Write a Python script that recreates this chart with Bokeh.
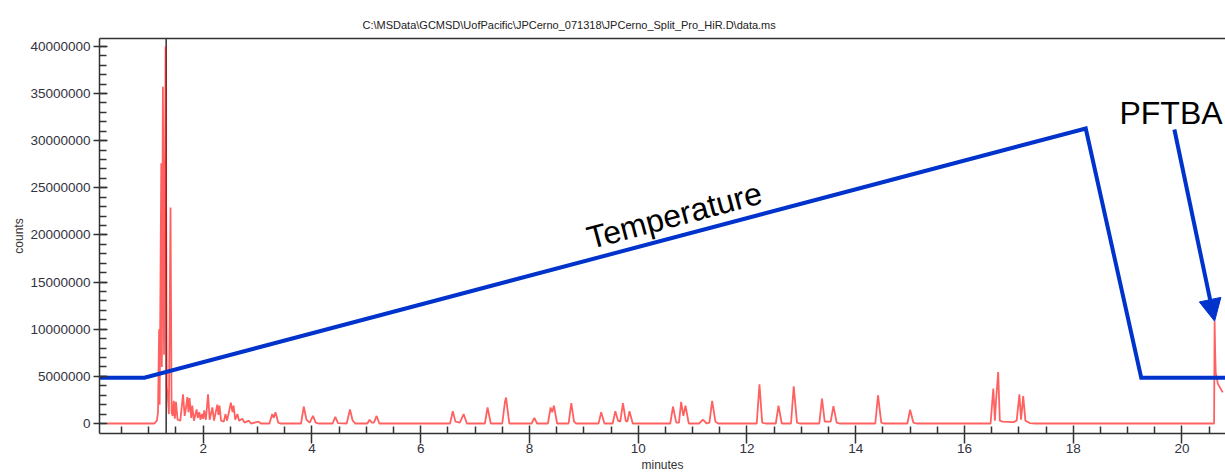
from bokeh.plotting import figure
from bokeh.models import (Range1d, FixedTicker, NumeralTickFormatter, LinearAxis,
                          Label, Arrow, NormalHead, ColumnDataSource)
from bokeh.embed import file_html
from bokeh.resources import INLINE

# ---------------- data ----------------
title_text = r"C:\MSData\GCMSD\UofPacific\JPCerno_071318\JPCerno_Split_Pro_HiR.D\data.ms"

# chromatogram vertices: retention time (min) and counts (millions), grouped by region
rt_main = [0.24, 1.10, 1.15, 1.17, 1.19, 1.20, 1.23, 1.24, 1.26, 1.28, 1.31, 1.33, 1.35, 1.37, 1.40, 1.42, 1.44]
ct_main = [0.0, 0.0, 0.3, 1.2, 10.0, 2.0, 27.6, 6.0, 35.7, 7.3, 40.0, 4.0, 2.9, 1.0, 22.9, 1.2, 0.8]

rt_early = [1.46, 1.48, 1.50, 1.53, 1.58, 1.63, 1.66, 1.68, 1.71, 1.73, 1.75, 1.78, 1.80, 1.83, 1.88,
            1.90, 1.93, 1.95, 1.98, 2.00, 2.02, 2.05, 2.09, 2.12, 2.17, 2.20, 2.26, 2.28, 2.30, 2.33,
            2.38, 2.41, 2.44, 2.51, 2.54, 2.56, 2.59, 2.63, 2.66, 2.72, 2.76, 2.84, 2.88]
ct_early = [2.4, 0.5, 2.3, 0.4, 0.3, 3.1, 0.8, 1.5, 2.8, 1.2, 2.7, 0.6, 1.9, 0.3, 1.5,
            0.6, 1.2, 0.4, 1.0, 0.5, 1.4, 0.4, 3.1, 0.4, 1.7, 0.3, 2.0, 0.9, 1.9, 0.3,
            0.2, 1.0, 0.3, 2.2, 1.2, 1.9, 0.4, 1.0, 0.3, 0.5, 0.1, 0.3, 0.0]

rt_mid1 = [3.02, 3.06, 3.22, 3.27, 3.30, 3.33, 3.38, 3.42, 3.80, 3.85, 3.90, 3.96, 4.02, 4.07,
           4.12, 4.38, 4.43, 4.48, 4.64, 4.70, 4.75, 4.80, 5.02, 5.06, 5.10, 5.14, 5.19, 5.24]
ct_mid1 = [0.2, 0.0, 0.0, 1.0, 0.6, 1.2, 0.1, 0.0, 0.0, 1.8, 0.4, 0.1, 0.8, 0.1,
           0.0, 0.0, 0.7, 0.05, 0.0, 1.5, 0.3, 0.0, 0.0, 0.4, 0.1, 0.1, 0.8, 0.0]

rt_mid2 = [6.54, 6.59, 6.64, 6.72, 6.79, 6.85, 7.18, 7.23, 7.29, 7.50, 7.55, 7.57, 7.63, 8.04,
           8.09, 8.14, 8.34, 8.39, 8.42, 8.45, 8.51, 8.72, 8.77, 8.82, 8.86, 9.27, 9.32, 9.38,
           9.53, 9.58, 9.63, 9.67, 9.72, 9.77, 9.80, 9.84, 9.90]
ct_mid2 = [0.0, 1.3, 0.2, 0.1, 1.0, 0.0, 0.0, 1.7, 0.0, 0.0, 2.3, 2.75, 0.0, 0.0,
           0.6, 0.0, 0.0, 1.7, 1.2, 1.9, 0.0, 0.0, 2.15, 0.2, 0.0, 0.0, 1.2, 0.0,
           0.0, 1.3, 0.3, 0.2, 2.15, 0.3, 0.2, 1.3, 0.0]

rt_late = [10.59, 10.64, 10.70, 10.75, 10.79, 10.83, 10.87, 10.93, 11.12, 11.19, 11.26, 11.31,
           11.36, 11.42, 11.47, 12.18, 12.23, 12.28, 12.34, 12.53, 12.58, 12.64, 12.81, 12.86,
           12.92, 12.97, 13.33, 13.38, 13.43, 13.54, 13.59, 13.65, 13.70, 14.36, 14.41, 14.47,
           14.52, 14.95, 15.00, 15.06, 15.12]
ct_late = [0.0, 1.8, 0.1, 0.1, 2.3, 0.8, 1.9, 0.0, 0.0, 0.4, 0.0, 0.1,
           2.4, 0.2, 0.0, 0.0, 4.15, 0.1, 0.0, 0.0, 1.9, 0.0, 0.0, 3.95,
           0.1, 0.0, 0.0, 2.65, 0.2, 0.2, 1.85, 0.1, 0.0, 0.0, 3.0, 0.1,
           0.0, 0.0, 1.45, 0.1, 0.0]

rt_end = [16.48, 16.53, 16.56, 16.58, 16.62, 16.65, 16.70, 16.90, 16.96, 17.01, 17.04, 17.08,
          17.12, 17.20, 17.30, 20.59, 20.60, 20.61, 20.62, 20.66, 20.75]
ct_end = [0.0, 3.7, 0.3, 2.4, 5.45, 0.3, 0.2, 0.15, 0.3, 3.1, 0.4, 2.9,
          0.3, 0.05, 0.0, 0.0, 10.85, 7.5, 5.4, 4.2, 3.3]

# temperature program overlay (drawn in the chart's coordinates)
temp_rt = [0.0, 0.92, 18.23, 19.25, 21.0]
temp_level = [4.86e6, 4.86e6, 31.29e6, 4.86e6, 4.86e6]

cursor_rt = 1.32
pftba_peak = (20.60, 10.85e6)
pftba_arrow_start = (19.86, 31.18e6)
pftba_label_pos = (18.85, 32.93e6)
temp_label_pos = (9.07, 19.6e6)
temp_label_angle = 15

x_major = [2, 4, 6, 8, 10, 12, 14, 16, 18, 20]
x_minor = [0.5, 1.0, 1.5, 2.5, 3.0, 3.5, 4.5, 5.0, 5.5, 6.5, 7.0, 7.5, 8.5, 9.0, 9.5, 10.5, 11.0,
           11.5, 12.5, 13.0, 13.5, 14.5, 15.0, 15.5, 16.5, 17.0, 17.5, 18.5, 19.0, 19.5, 20.5]
y_major = [0, 5e6, 10e6, 15e6, 20e6, 25e6, 30e6, 35e6, 40e6]
y_minor = [m * 1e6 for m in range(0, 41)]

rt = rt_main + rt_early + rt_mid1 + rt_mid2 + rt_late + rt_end
counts = [c * 1e6 for c in ct_main + ct_early + ct_mid1 + ct_mid2 + ct_late + ct_end]
assert len(rt) == len(counts)

# ---------------- figure ----------------
FONT = "Liberation Sans"
AX = "#333333"
BLUE = "#0033cc"

x_lo, x_hi = 0.094, 20.80
y_lo, y_hi = -1.06e6, 40.83e6

p = figure(width=1225, height=474, output_backend="svg", toolbar_location=None,
           x_range=Range1d(x_lo, x_hi), y_range=Range1d(y_lo, y_hi),
           min_border_left=99, min_border_right=0, min_border_top=38, min_border_bottom=40,
           background_fill_color="white", border_fill_color="white")
p.outline_line_color = None
p.xgrid.visible = False
p.ygrid.visible = False

p.title.text = title_text
p.title.align = "left"
p.title.offset = 263
p.title.text_font = FONT
p.title.text_font_size = "11px"
p.title.text_font_style = "normal"
p.title.text_color = "#222222"
p.title.standoff = 16

top = LinearAxis(ticker=FixedTicker(ticks=[]), major_tick_in=0, major_tick_out=0,
                 minor_tick_in=0, minor_tick_out=0, major_label_standoff=0,
                 major_label_text_font_size="0px", axis_line_color=AX, axis_line_width=1.5)
p.add_layout(top, "above")

xa = p.below[0]
xa.ticker = FixedTicker(ticks=x_major, minor_ticks=x_minor)
xa.axis_label = "minutes"
ya = p.left[0]
ya.ticker = FixedTicker(ticks=y_major, minor_ticks=y_minor)
ya.formatter = NumeralTickFormatter(format="0")
ya.axis_label = "counts"
for ax in (xa, ya):
    ax.axis_line_color = AX
    ax.axis_line_width = 1.5
    ax.major_tick_line_color = AX
    ax.major_tick_line_width = 1.5
    ax.minor_tick_line_color = AX
    ax.minor_tick_line_width = 1.5
    ax.major_label_text_font = FONT
    ax.major_label_text_font_size = "13.5px"
    ax.major_label_text_color = "#333340"
    ax.axis_label_text_font = FONT
    ax.axis_label_text_font_size = "12px"
    ax.axis_label_text_font_style = "normal"
    ax.axis_label_text_color = "#333333"
xa.major_tick_in = 8
xa.major_tick_out = 10
xa.minor_tick_in = 7
xa.minor_tick_out = 0
xa.major_label_standoff = 0
xa.axis_label_standoff = 2
ya.major_tick_in = 8
ya.major_tick_out = 6
ya.minor_tick_in = 7
ya.minor_tick_out = 0
ya.major_label_standoff = 3
ya.axis_label_standoff = 1

# cursor line (under the trace)
p.segment(x0=[cursor_rt], y0=[y_lo], x1=[cursor_rt], y1=[y_hi], line_color=AX, line_width=1.5)

# chromatogram
src = ColumnDataSource(dict(rt=rt, counts=counts))
p.line("rt", "counts", source=src, line_color="#ff0000", line_alpha=0.62, line_width=1.8)

# temperature overlay
p.line(temp_rt, temp_level, line_color=BLUE, line_width=4, line_join="miter")

p.add_layout(Label(x=temp_label_pos[0], y=temp_label_pos[1], text="Temperature",
                   angle=temp_label_angle, angle_units="deg", text_font=FONT,
                   text_font_size="32px", text_color="black", text_align="left",
                   text_baseline="alphabetic"))
p.add_layout(Label(x=pftba_label_pos[0], y=pftba_label_pos[1], text="PFTBA",
                   text_font=FONT, text_font_size="32px", text_color="black",
                   text_align="left", text_baseline="alphabetic"))
p.add_layout(Arrow(end=NormalHead(size=22, fill_color=BLUE, line_color=BLUE, line_width=1),
                   x_start=pftba_arrow_start[0], y_start=pftba_arrow_start[1],
                   x_end=pftba_peak[0], y_end=pftba_peak[1],
                   line_color=BLUE, line_width=4))

open("out.html", "w").write(file_html(p, INLINE))
